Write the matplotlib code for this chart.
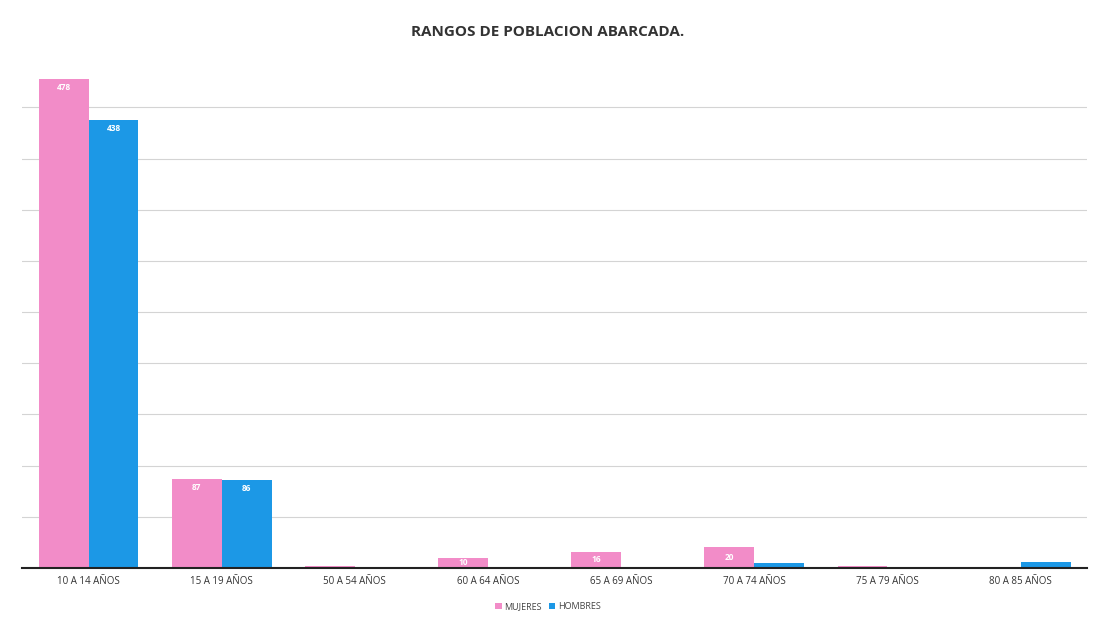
import numpy as np
import matplotlib.pyplot as plt

plt.rcParams['font.family'] = ['Open Sans', 'DejaVu Sans']

# data
categorias = ['10 A 14 AÑOS', '15 A 19 AÑOS', '50 A 54 AÑOS', '60 A 64 AÑOS',
              '65 A 69 AÑOS', '70 A 74 AÑOS', '75 A 79 AÑOS', '80 A 85 AÑOS']
mujeres = [478, 87, 2, 10, 16, 20, 2, 0]
hombres = [438, 86, 0, 0, 0, 5, 0, 6]

color_mujeres = '#F28CC8'
color_hombres = '#1C98E6'

fig = plt.figure(figsize=(10.96, 6.18), dpi=100)
ax = fig.add_axes([0.020, 0.081, 0.972, 0.823])

x = np.arange(len(categorias))
w = 0.375
b1 = ax.bar(x - w / 2, mujeres, w, color=color_mujeres, label='MUJERES', zorder=3)
b2 = ax.bar(x + w / 2, hombres, w, color=color_hombres, label='HOMBRES', zorder=3)

# value labels inside the bars
for bars, vals in [(b1, mujeres), (b2, hombres)]:
    for r, v in zip(bars, vals):
        if v < 10:
            continue
        cx = r.get_x() + r.get_width() / 2
        if v > 40:
            ax.text(cx, v - 4, str(v), ha='center', va='top', fontsize=6,
                    color='white', fontweight='bold', zorder=4)
        else:
            ax.text(cx, v / 2, str(v), ha='center', va='center', fontsize=6,
                    color='white', fontweight='bold', zorder=4)

ax.set_xlim(-0.5, len(categorias) - 0.5)
ax.set_ylim(0, 497)
ax.set_yticks(np.arange(50, 451, 50))
ax.yaxis.grid(True, color='#d4d4d4', lw=0.8, zorder=0)
ax.tick_params(axis='y', length=0, labelleft=False)
ax.tick_params(axis='x', length=0, labelsize=7, colors='#333333', pad=6)
ax.set_xticks(x)
ax.set_xticklabels(categorias)

for s in ['top', 'right', 'left']:
    ax.spines[s].set_visible(False)
ax.spines['bottom'].set_color('#222222')
ax.spines['bottom'].set_linewidth(1.5)
ax.spines['bottom'].set_zorder(5)

fig.text(0.5, 0.949, 'RANGOS DE POBLACION ABARCADA.', ha='center', va='center',
         fontsize=11, fontweight='bold', color='#333333')

fig.legend(loc='center', bbox_to_anchor=(0.5, 0.018), ncol=2, frameon=False,
           fontsize=6.5, handlelength=0.7, handleheight=0.7, handletextpad=0.3,
           columnspacing=0.8, labelcolor='#444444')

fig.savefig('out.png', dpi=100)
